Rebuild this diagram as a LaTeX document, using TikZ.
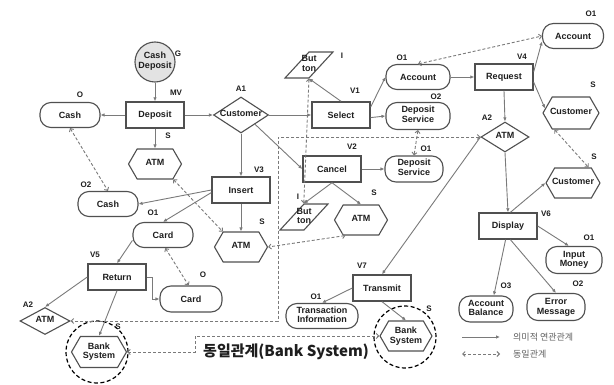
\documentclass[tikz,border=0pt]{standalone}
\usepackage{fontspec}
\setmainfont{Liberation Sans}
\newfontfamily\kr{Noto Sans CJK KR}
\usetikzlibrary{shapes.geometric,shapes.symbols,arrows.meta}
\definecolor{bd}{HTML}{505050}
\definecolor{ar}{HTML}{7A7A7A}
\definecolor{tx}{HTML}{1E1E1E}
\newcommand{\zw}[1]{\makebox[0pt]{\begin{tabular}{@{}c@{}}#1\end{tabular}}}
\newcommand{\nlab}[3]{\node[lab] (#1) at (#2) {#3};}
\tikzset{
  base/.style={draw=bd, line width=1.1pt, font=\bfseries\fontsize{9}{10}\selectfont, text=tx, inner sep=0pt, align=center},
  rbox/.style={base, rectangle, minimum width=58pt, minimum height=26pt, line width=1.4pt},
  obox/.style={base, rectangle, rounded corners=11pt, minimum width=60pt, minimum height=25pt},
  hexa/.style={base, signal, signal to=west and east, signal pointer angle=120, minimum width=53pt, minimum height=30pt},
  dia/.style={base, diamond, minimum width=55pt, minimum height=36pt},
  para/.style={base, trapezium, trapezium left angle=70, trapezium right angle=110, trapezium stretches=true, minimum width=48pt, minimum height=26pt},
  lab/.style={font=\bfseries\fontsize{8}{9}\selectfont, text=tx, inner sep=0pt},
  sem/.style={draw=ar, line width=0.9pt, -{Latex[length=4pt,width=3.5pt]}},
  same/.style={draw=ar, line width=0.9pt, dash pattern=on 3pt off 2pt, {Straight Barb[length=2.5pt,width=5pt]}-{Straight Barb[length=2.5pt,width=5pt]}},
  ring/.style={circle, draw=black, line width=1.2pt, dash pattern=on 4pt off 2.5pt, minimum size=62pt, inner sep=0pt},
}
\begin{document}
\begin{tikzpicture}[x=1pt,y=-1pt]
\fill[white] (0,0) rectangle (614,385);
\useasboundingbox (0,0) rectangle (614,385);
% nodes
\node[base, circle, fill=gray!22, minimum size=40pt] (g) at (155,62) {\zw{Cash\\Deposit}};
\node[rbox] (dep) at (155,115) {Deposit};
\node[obox] (cashO) at (70,115) {Cash};
\node[hexa] (atm1) at (155,164) {\zw{ATM}};
\node[obox] (cashO2) at (108,204) {Cash};
\node[obox] (card1) at (163,235) {Card};
\node[dia] (cust) at (241,115) {\zw{Customer}};
\node[rbox] (ins) at (241,190) {Insert};
\node[hexa] (atm2) at (241,247) {\zw{ATM}};
\node[rbox] (sel) at (341,115) {Select};
\node[para] (but1) at (309,65) {\zw{But\\ton}};
\node[rbox] (can) at (332,169) {Cancel};
\node[para] (but2) at (304,217) {\zw{But\\ton}};
\node[hexa] (atm3) at (361,220) {\zw{ATM}};
\node[obox, minimum width=58pt, minimum height=26pt] (dsv1) at (414,169) {\zw{Deposit\\Service}};
\node[obox, minimum width=64pt] (acc1) at (418,77) {Account};
\node[obox, minimum width=64pt, minimum height=27pt] (dsv2) at (418,116) {\zw{Deposit\\Service}};
\node[rbox] (req) at (504,77) {Request};
\node[obox, minimum width=61pt] (acc2) at (573,36) {Account};
\node[hexa, minimum width=56pt, minimum height=32pt] (custR1) at (571,113) {\zw{Customer}};
\node[dia, minimum width=48pt, minimum height=30pt] (atmA2) at (505,137) {\zw{ATM}};
\node[hexa, minimum width=54pt] (custR2) at (573,183) {\zw{Customer}};
\node[rbox] (disp) at (508,226) {Display};
\node[obox, minimum width=56pt, minimum height=27pt] (inm) at (574,260) {\zw{Input\\Money}};
\node[obox, minimum width=54pt, minimum height=26pt] (accb) at (486,309) {\zw{Account\\Balance}};
\node[obox, minimum width=58pt, minimum height=27pt] (errm) at (556,307) {\zw{Error\\Message}};
\node[rbox] (trans) at (382,288) {Transmit};
\node[obox, minimum width=72pt] (tinfo) at (322,316) {\zw{Transaction\\Information}};
\node[ring] (ring2) at (405,337) {};
\node[hexa, minimum width=52pt] (bank2) at (406,336) {\zw{Bank\\System}};
\node[ring] (ring1) at (97,352) {};
\node[hexa, minimum width=55pt, minimum height=31pt] (bank1) at (99,352) {\zw{Bank\\System}};
\node[dia, minimum width=50pt, minimum height=27pt] (atmL) at (45,321) {\zw{ATM}};
\node[rbox] (ret) at (117,277) {Return};
\node[obox, minimum width=62pt, minimum height=26pt] (cardO) at (191,299) {Card};
% tags
\nlab{tG}{178,54}{G}
\nlab{tMV}{176,93}{MV}
\nlab{tO}{80,95}{O}
\nlab{tS1}{168,136}{S}
\nlab{tO2a}{86,185}{O2}
\nlab{tO1a}{153,213}{O1}
\nlab{tA1}{241,89}{A1}
\nlab{tV3}{259,170}{V3}
\nlab{tS2}{262,222}{S}
\nlab{tV1}{355,91}{V1}
\nlab{tI1}{342,56}{I}
\nlab{tV2}{352,147}{V2}
\nlab{tI2}{298,197}{I}
\nlab{tS3}{374,193}{S}
\nlab{tO1b}{426,149}{O1}
\nlab{tO1c}{402,58}{O1}
\nlab{tO2b}{436,97}{O2}
\nlab{tV4}{522,57}{V4}
\nlab{tO1d}{591,14}{O1}
\nlab{tS4}{593,85}{S}
\nlab{tA2a}{487,118}{A2}
\nlab{tS5}{594,157}{S}
\nlab{tV6}{546,214}{V6}
\nlab{tO1e}{589,238}{O1}
\nlab{tO3}{506,286}{O3}
\nlab{tO2c}{578,284}{O2}
\nlab{tV7}{362,266}{V7}
\nlab{tO1f}{316,297}{O1}
\nlab{tS6}{429,309}{S}
\nlab{tS7}{118,327}{S}
\nlab{tA2b}{28,305}{A2}
\nlab{tV5}{95,255}{V5}
\nlab{tO4}{203,275}{O}
% semantic connectors
\draw[sem] (g) -- (dep);
\draw[sem] (dep.west) -- (cashO.east);
\draw[sem] (dep.east) -- (cust.west);
\draw[sem] (dep.south) -- (atm1.north);
\draw[sem] (cust.east) -- (sel.west);
\draw[sem] (cust.south) -- (ins.north);
\draw[sem] (cust.south east) -- (can.west);
\draw[sem] (sel.north) -- (but1.south);
\draw[sem] (sel.15) -- (acc1.west);
\draw[sem] (sel.-5) -- (dsv2.west);
\draw[sem] (acc1.east) -- (req.west);
\draw[sem] (req.10) -- (acc2.190);
\draw[sem] (req.-10) -- (custR1.170);
\draw[sem] (req.south) -- (atmA2.north);
\draw[sem] (atmA2.south) -- (disp.north);
\draw[sem] (disp.80) -- (custR2.west);
\draw[sem] (disp.east) -- (inm.110);
\draw[sem] (disp.-100) -- (accb.60);
\draw[sem] (disp.-80) -- (errm.north);
\draw[sem] (atmA2.west) -- (trans.north);
\draw[sem] (trans.west) -- (tinfo.north);
\draw[sem] (trans.south) -- (bank2.north);
\draw[sem] (can.east) -- (dsv1.west);
\draw[sem] (can.south) -- (but2.north);
\draw[sem] (can.south) -- (atm3.north);
\draw[sem] (ins.south) -- (atm2.north);
\draw[sem] (ins.west) -- (cashO2.east);
\draw[sem] (ins.-175) -- (card1.north);
\draw[sem] (card1.190) -- (ret.north);
\draw[sem] (ret.east) -- ++(6,0) |- (cardO.west);
\draw[sem] (ret.west) -- (atmL.north);
\draw[sem] (ret.south) -- (bank1.north);
% identity connectors
\draw[same] (cashO.south) -- (cashO2.north);
\draw[same] (acc1.north) -- (acc2.west);
\draw[same] (custR1.-135) -- (custR2.45);
\draw[same] (dsv2.south) -- (dsv1.north);
\draw[same] (atm1.-40) -- (atm2.140);
\draw[same] (card1.-80) -- (cardO.100);
\draw[same] (but1.south) -- (but2.top left corner);
\draw[same] (atm3.-135) -- (atm2.east);
\coordinate (bx) at (278,137);
\draw[same] (atmA2.west) -- (atmA2.west -| bx) |- (atmL.east);
\coordinate (bj) at (195,345);
\draw[same] (bank1.east) -- (bank1.east -| bj) |- (bank2.west);
% caption
\node[font=\kr\bfseries\fontsize{15}{17}\selectfont, text=tx, inner sep=0pt] (cap) at (286,352) {동일관계(Bank System)};
% legend
\coordinate (la1) at (462,337);
\coordinate (la2) at (500,337);
\coordinate (lb1) at (462,354);
\coordinate (lb2) at (500,354);
\draw[sem] (la1) -- (la2);
\draw[same] (lb1) -- (lb2);
\node[font=\kr\fontsize{9}{10}\selectfont, text=gray!75!black, anchor=west, inner sep=0pt] (lt1) at (513,337) {의미적 연관관계};
\node[font=\kr\fontsize{9}{10}\selectfont, text=gray!75!black, anchor=west, inner sep=0pt] (lt2) at (513,354) {동일관계};
\end{tikzpicture}
\end{document}
